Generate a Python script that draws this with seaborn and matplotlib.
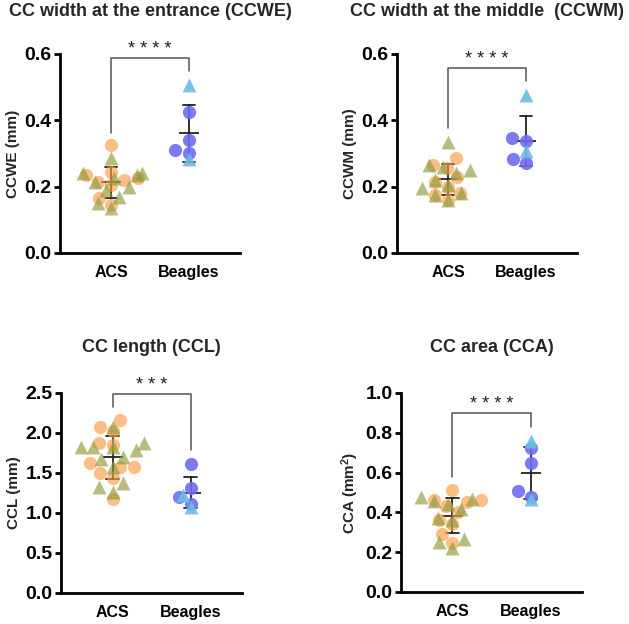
import pandas as pd
import matplotlib
matplotlib.use('Agg')
import matplotlib.pyplot as plt
import seaborn as sns

groups = ['ACS', 'Beagles']

# CC width at the entrance (mm)
ccwe_acs_circle = [0.325, 0.245, 0.235, 0.225, 0.22, 0.215, 0.205, 0.165, 0.145]
ccwe_acs_triangle = [0.285, 0.24, 0.24, 0.235, 0.225, 0.215, 0.20, 0.19, 0.17, 0.15, 0.135]
ccwe_beagle_circle = [0.425, 0.34, 0.31, 0.30]
ccwe_beagle_triangle = [0.505, 0.282]

# CC width at the middle (mm)
ccwm_acs_circle = [0.285, 0.265, 0.255, 0.23, 0.215, 0.20, 0.18, 0.175, 0.16]
ccwm_acs_triangle = [0.335, 0.265, 0.26, 0.25, 0.24, 0.22, 0.205, 0.195, 0.18, 0.175, 0.16]
ccwm_beagle_circle = [0.348, 0.339, 0.283, 0.27]
ccwm_beagle_triangle = [0.476, 0.308]

# CC length (mm)
ccl_acs_circle = [2.16, 2.08, 2.02, 1.88, 1.85, 1.62, 1.58, 1.58, 1.50, 1.44, 1.17]
ccl_acs_triangle = [2.08, 1.87, 1.83, 1.83, 1.82, 1.79, 1.70, 1.68, 1.58, 1.38, 1.32, 1.26]
ccl_beagle_circle = [1.61, 1.31, 1.20, 1.11]
ccl_beagle_triangle = [1.225, 1.08]

# CC area (mm2)
cca_acs_circle = [0.515, 0.46, 0.46, 0.45, 0.43, 0.40, 0.36, 0.34, 0.29, 0.245]
cca_acs_triangle = [0.475, 0.465, 0.455, 0.44, 0.415, 0.37, 0.36, 0.265, 0.25, 0.22]
cca_beagle_circle = [0.722, 0.65, 0.508, 0.476]
cca_beagle_triangle = [0.76, 0.466]

point_colors = {
    ('ACS', 'o'): ('#F89C45', 0.65),
    ('ACS', '^'): ('#8E9A3A', 0.65),
    ('Beagles', 'o'): ('#6F6CF2', 0.9),
    ('Beagles', '^'): ('#6DBCE2', 0.9),
}


def make_df(acs_c, acs_t, bea_c, bea_t):
    rows = []
    for g, m, vals in [('ACS', 'o', acs_c), ('ACS', '^', acs_t),
                       ('Beagles', 'o', bea_c), ('Beagles', '^', bea_t)]:
        for v in vals:
            rows.append({'group': g, 'marker': m, 'value': v})
    return pd.DataFrame(rows)


sns.set_theme(style='ticks')
plt.rcParams['font.family'] = ['Liberation Sans', 'DejaVu Sans']
plt.rcParams['font.weight'] = 'bold'
plt.rcParams['mathtext.fontset'] = 'custom'
plt.rcParams['mathtext.bf'] = 'Liberation Sans:bold'
plt.rcParams['mathtext.default'] = 'bf'

panels = [
    dict(rect=[0.0954, 0.5946, 0.2862, 0.3189], title='CC width at the entrance (CCWE)',
         ylabel='CCWE (mm)', ymax=0.6, step=0.2, pad=27,
         df=make_df(ccwe_acs_circle, ccwe_acs_triangle, ccwe_beagle_circle, ccwe_beagle_triangle),
         bracket=(0.587, 0.363, 0.549), stars='* * * *'),
    dict(rect=[0.6312, 0.5946, 0.2862, 0.3189], title='CC width at the middle  (CCWM)',
         ylabel='CCWM (mm)', ymax=0.6, step=0.2, pad=27,
         df=make_df(ccwm_acs_circle, ccwm_acs_triangle, ccwm_beagle_circle, ccwm_beagle_triangle),
         bracket=(0.557, 0.376, 0.519), stars='* * * *'),
    dict(rect=[0.097, 0.0497, 0.2878, 0.3205], title='CC length (CCL)',
         ylabel='CCL (mm)', ymax=2.5, step=0.5, pad=29.5,
         df=make_df(ccl_acs_circle, ccl_acs_triangle, ccl_beagle_circle, ccl_beagle_triangle),
         bracket=(2.49, 2.32, 1.79), stars='* * *'),
    dict(rect=[0.6375, 0.0513, 0.2878, 0.3189], title='CC area (CCA)',
         ylabel='CCA (mm$^2$)', ymax=1.0, step=0.2, pad=29.5,
         df=make_df(cca_acs_circle, cca_acs_triangle, cca_beagle_circle, cca_beagle_triangle),
         bracket=(0.90, 0.58, 0.83), stars='* * * *'),
]

fig = plt.figure(figsize=(6.29, 6.24), dpi=100)

for p in panels:
    ax = fig.add_axes(p['rect'])
    df = p['df']
    for (g, m), (c, a) in point_colors.items():
        sub = df[(df['group'] == g) & (df['marker'] == m)]
        sns.swarmplot(data=sub, x='group', y='value', order=groups, ax=ax,
                      color=c, alpha=a, marker=m, size=9.5 if m == 'o' else 10,
                      linewidth=0, warn_thresh=1)
    sns.pointplot(data=df, x='group', y='value', order=groups, ax=ax,
                  errorbar='sd', capsize=0.16, color='#222222',
                  linestyle='none', marker='_', markersize=14, markeredgewidth=1.3,
                  err_kws={'linewidth': 1.3})

    top, lb, rb = p['bracket']
    ax.plot([0, 0, 1, 1], [lb, top, top, rb], color='#555555', lw=1.1, clip_on=False)
    ax.text(0.5, top, p['stars'], ha='center', va='bottom', fontsize=13,
            fontweight='normal', color='#222222')

    ax.set_xlim(-0.66, 1.66)
    ax.set_ylim(0, p['ymax'])
    n = int(round(p['ymax'] / p['step']))
    ticks = [i * p['step'] for i in range(n + 1)]
    ax.set_yticks(ticks)
    ax.set_yticklabels(['{:.1f}'.format(t) for t in ticks])
    ax.set_xlabel('')
    ax.set_ylabel(p['ylabel'], fontsize=11, fontweight='bold', labelpad=3)
    ax.set_title(p['title'], fontsize=13, fontweight='bold', pad=p['pad'])
    sns.despine(ax=ax)
    for s in ['left', 'bottom']:
        ax.spines[s].set_linewidth(2)
        ax.spines[s].set_color('black')
    ax.tick_params(axis='y', length=4.5, width=2, pad=1.5, labelsize=14, colors='black')
    ax.tick_params(axis='x', length=0, pad=9, labelsize=11.5, colors='black')
    for lab in ax.get_xticklabels() + ax.get_yticklabels():
        lab.set_fontweight('bold')

fig.savefig('out.png', dpi=100)
